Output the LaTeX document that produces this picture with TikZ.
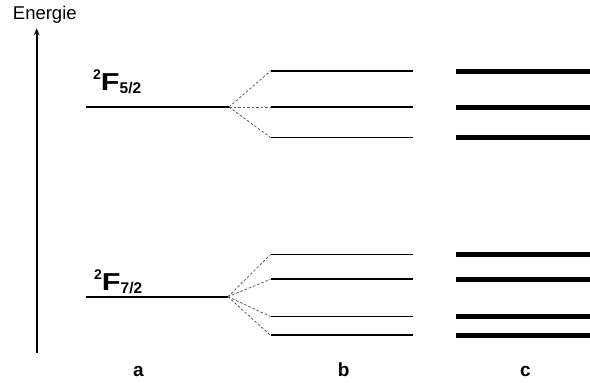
\documentclass[tikz,border=0pt]{standalone}
\usepackage{fontspec}
\setmainfont{Liberation Sans}
\usetikzlibrary{arrows.meta}
\tikzset{level/.style={
    line width=1.9pt,
    line cap=butt
  },
  broad level/.style={
    line width=5pt,
    line cap=butt
  },
  split/.style={
    line width=0.8pt,
    dash pattern=on 2.5pt off 2pt,
    draw=black!65
  },
  axis/.style={
    line width=1.8pt,
    -{Stealth[length=7pt,width=5.5pt]}
  },
  term/.style={
    anchor=base west,
    inner sep=0pt,
    font=\bfseries\fontsize{24.5}{24.5}\selectfont
  },
  column label/.style={
    anchor=base,
    inner sep=0pt,
    font=\bfseries\fontsize{19}{19}\selectfont
  }
}
\newcommand{\termsym}[2]{\raisebox{10.3pt}{\fontsize{14}{14}\selectfont #1}\scalebox{1.25}[1]{F}\raisebox{-3.3pt}{\fontsize{15.5}{15.5}\selectfont #2}}

\begin{document}
\begin{tikzpicture}[x=1pt,y=-1pt]
        \useasboundingbox (0,0) rectangle (590,383);
        \coordinate (Axis0) at (36.7,353);
        \coordinate (Axis1) at (36.7,28.3);
        \draw[axis] (Axis0) -- (Axis1);
        \node[anchor=base,inner sep=0pt,font=\fontsize{18.5}{18.5}\selectfont] (Energie) at (44.8,19) {Energie};
        \coordinate (Upper0) at (86,107);
        \coordinate (Upper) at (229,107);
        \draw[level] (Upper0) -- (Upper);
        \node[term] (UpperTerm) at (93,90) {\termsym{2}{5/2}};
        \coordinate (Lower0) at (86,296.7);
        \coordinate (Lower) at (228,296.7);
        \draw[level] (Lower0) -- (Lower);
        \node[term] (LowerTerm) at (94,290) {\termsym{2}{7/2}};
        \foreach \y [count=\i] in {71,107,137.5}
        {
        \coordinate (UpperB\i) at (270.5,\y);
        \coordinate (UpperBe\i) at (413,\y);
        \coordinate (UpperC\i) at (456,\y);
        \coordinate (UpperCe\i) at (590,\y);
        \draw[split] (Upper) -- (UpperB\i);
        \draw[level] (UpperB\i) -- (UpperBe\i);
        \draw[broad level] (UpperC\i) -- (UpperCe\i);
        }
        \foreach \y [count=\i] in {254.5,279.3,316.5,335.3}
        {
        \coordinate (LowerB\i) at (270.5,\y);
        \coordinate (LowerBe\i) at (413,\y);
        \coordinate (LowerC\i) at (456,\y);
        \coordinate (LowerCe\i) at (590,\y);
        \draw[split] (Lower) -- (LowerB\i);
        \draw[level] (LowerB\i) -- (LowerBe\i);
        \draw[broad level] (LowerC\i) -- (LowerCe\i);
        }
        \node[column label] (LabelA) at (138.3,376) {a};
        \node[column label] (LabelB) at (343.7,376) {b};
        \node[column label] (LabelC) at (525.3,376) {c};
    \end{tikzpicture}
\end{document}
